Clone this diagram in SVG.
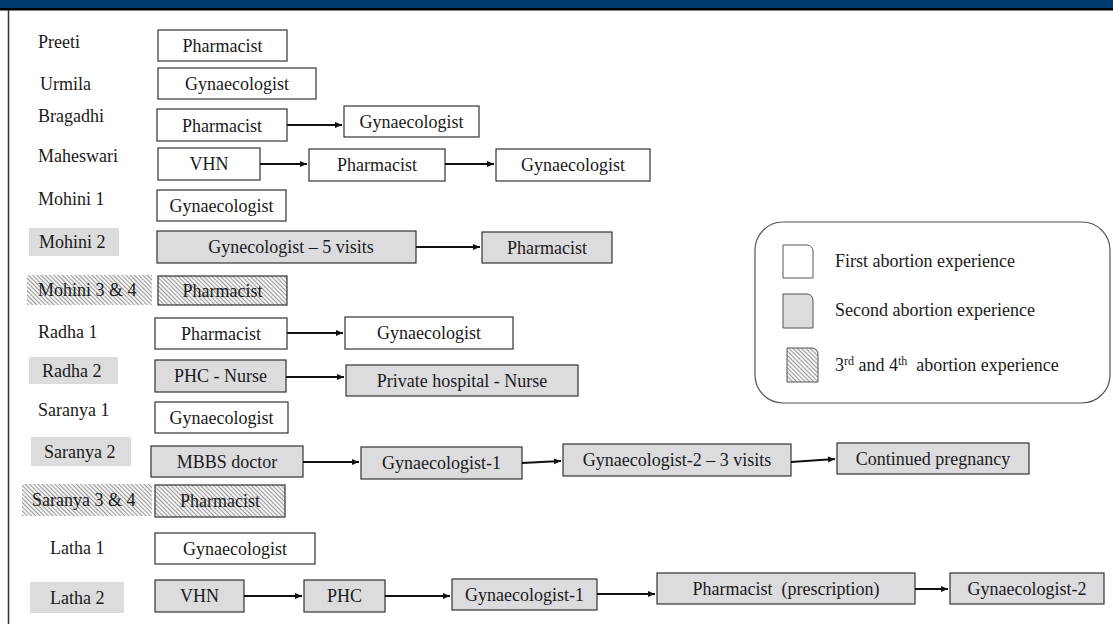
<svg xmlns="http://www.w3.org/2000/svg" width="1113" height="624" viewBox="0 0 1113 624">
<defs>
<pattern id="hatch" width="3" height="3" patternUnits="userSpaceOnUse" patternTransform="rotate(45)">
<rect width="3" height="3" fill="#f4f4f4"/>
<line x1="0" y1="0.5" x2="3" y2="0.5" stroke="#9a9a9a" stroke-width="1"/>
</pattern>
<marker id="ah" markerWidth="8" markerHeight="8" refX="7" refY="4" orient="auto" markerUnits="userSpaceOnUse">
<path d="M0,1 L7,4 L0,7 Z" fill="#111"/>
</marker>
<style>
text{font-family:"Liberation Serif","Times New Roman",serif;font-size:18px;fill:#1a1a1a}
.b{stroke:#333;stroke-width:1.2}
.w{fill:#fff}
.g{fill:#dcdcde}
.h{fill:url(#hatch)}
.c{text-anchor:middle}
.lg{fill:#dcdcdc}
.ar{stroke:#111;stroke-width:2;fill:none;marker-end:url(#ah)}
</style>
</defs>
<rect x="0" y="0" width="1113" height="624" fill="#fff"/>
<rect x="0" y="0" width="1113" height="8" fill="#003b6f"/>
<rect x="0" y="8" width="1113" height="2.5" fill="#000"/>
<line x1="8.5" y1="10" x2="8.5" y2="624" stroke="#333" stroke-width="1.5"/>

<g id="labels">
<text x="38" y="48">Preeti</text>
<text x="40" y="90">Urmila</text>
<text x="38" y="122">Bragadhi</text>
<text x="38" y="162">Maheswari</text>
<text x="38" y="205">Mohini 1</text>
<rect class="lg" x="29" y="228" width="90" height="28"/>
<text x="39" y="248">Mohini 2</text>
<rect class="h" x="27" y="275" width="125" height="30"/>
<text x="38" y="296">Mohini 3 &amp; 4</text>
<text x="38" y="338">Radha 1</text>
<rect class="lg" x="29" y="357" width="89" height="27"/>
<text x="42" y="377">Radha 2</text>
<text x="38" y="416">Saranya 1</text>
<rect class="lg" x="31" y="437" width="100" height="29"/>
<text x="44" y="458">Saranya 2</text>
<rect class="h" x="22" y="484" width="130" height="32"/>
<text x="32" y="506">Saranya 3 &amp; 4</text>
<text x="50" y="554">Latha 1</text>
<rect class="lg" x="30" y="582" width="94" height="31"/>
<text x="50" y="604">Latha 2</text>
</g>

<g id="preeti"><rect class="b w" x="158" y="30" width="129" height="31"/><text class="c" x="222.5" y="52">Pharmacist</text></g>
<g id="urmila"><rect class="b w" x="158" y="68" width="158" height="31"/><text class="c" x="237" y="90">Gynaecologist</text></g>
<g id="bragadhi-1"><rect class="b w" x="157" y="109" width="130" height="32"/><text class="c" x="222" y="132">Pharmacist</text></g>
<g id="bragadhi-2"><rect class="b w" x="344" y="106" width="135" height="31"/><text class="c" x="411.5" y="128">Gynaecologist</text></g>
<g id="maheswari-1"><rect class="b w" x="158" y="148" width="102" height="32"/><text class="c" x="209" y="170">VHN</text></g>
<g id="maheswari-2"><rect class="b w" x="309" y="149" width="136" height="32"/><text class="c" x="377" y="171">Pharmacist</text></g>
<g id="maheswari-3"><rect class="b w" x="496" y="149" width="154" height="32"/><text class="c" x="573" y="171">Gynaecologist</text></g>
<g id="mohini1"><rect class="b w" x="157" y="190" width="129" height="31"/><text class="c" x="221.5" y="212">Gynaecologist</text></g>
<g id="mohini2-1"><rect class="b g" x="157" y="231" width="259" height="32"/><text class="c" x="291" y="253">Gynecologist – 5 visits</text></g>
<g id="mohini2-2"><rect class="b g" x="482" y="232" width="130" height="31"/><text class="c" x="547" y="254">Pharmacist</text></g>
<g id="mohini34"><rect class="b h" x="158" y="276" width="129" height="29"/><text class="c" x="222.5" y="297">Pharmacist</text></g>
<g id="radha1-1"><rect class="b w" x="155" y="318" width="132" height="31"/><text class="c" x="221" y="340">Pharmacist</text></g>
<g id="radha1-2"><rect class="b w" x="345" y="317" width="168" height="32"/><text class="c" x="429" y="339">Gynaecologist</text></g>
<g id="radha2-1"><rect class="b g" x="155" y="360" width="131" height="32"/><text class="c" x="220.5" y="382">PHC - Nurse</text></g>
<g id="radha2-2"><rect class="b g" x="346" y="365" width="232" height="31"/><text class="c" x="462" y="387">Private hospital - Nurse</text></g>
<g id="saranya1"><rect class="b w" x="155" y="402" width="133" height="31"/><text class="c" x="221.5" y="424">Gynaecologist</text></g>
<g id="saranya2-1"><rect class="b g" x="151" y="446" width="152" height="31"/><text class="c" x="227" y="468">MBBS doctor</text></g>
<g id="saranya2-2"><rect class="b g" x="361" y="447" width="161" height="32"/><text class="c" x="441.5" y="469">Gynaecologist-1</text></g>
<g id="saranya2-3"><rect class="b g" x="563" y="444" width="228" height="32"/><text class="c" x="677" y="466">Gynaecologist-2 – 3 visits</text></g>
<g id="saranya2-4"><rect class="b g" x="837" y="443" width="192" height="31"/><text class="c" x="933" y="465">Continued pregnancy</text></g>
<g id="saranya34"><rect class="b h" x="155" y="485" width="130" height="32"/><text class="c" x="220" y="507">Pharmacist</text></g>
<g id="latha1"><rect class="b w" x="155" y="533" width="160" height="31"/><text class="c" x="235" y="555">Gynaecologist</text></g>
<g id="latha2-1"><rect class="b g" x="155" y="580" width="89" height="32"/><text class="c" x="199.5" y="602">VHN</text></g>
<g id="latha2-2"><rect class="b g" x="304" y="580" width="81" height="32"/><text class="c" x="344.5" y="602">PHC</text></g>
<g id="latha2-3"><rect class="b g" x="452" y="579" width="145" height="31"/><text class="c" x="524.5" y="601">Gynaecologist-1</text></g>
<g id="latha2-4"><rect class="b g" x="657" y="573" width="258" height="31"/><text class="c" x="786" y="595" xml:space="preserve">Pharmacist  (prescription)</text></g>
<g id="latha2-5"><rect class="b g" x="950" y="573" width="154" height="31"/><text class="c" x="1027" y="595">Gynaecologist-2</text></g>

<g id="connectors">
<line class="ar" x1="287" y1="125" x2="342" y2="125"/>
<line class="ar" x1="260" y1="164" x2="307" y2="164"/>
<line class="ar" x1="445" y1="164" x2="494" y2="164"/>
<line class="ar" x1="416" y1="247" x2="480" y2="247"/>
<line class="ar" x1="287" y1="333" x2="343" y2="333"/>
<line class="ar" x1="286" y1="377" x2="344" y2="377"/>
<line class="ar" x1="303" y1="462" x2="359" y2="462"/>
<line class="ar" x1="522" y1="463" x2="561" y2="461"/>
<line class="ar" x1="791" y1="462" x2="835" y2="459"/>
<line class="ar" x1="244" y1="596" x2="302" y2="596"/>
<line class="ar" x1="385" y1="596" x2="450" y2="596"/>
<line class="ar" x1="597" y1="594" x2="655" y2="594"/>
<line class="ar" x1="915" y1="589" x2="948" y2="589"/>
</g>

<g id="legend">
<rect x="755" y="222" width="355" height="181" rx="28" ry="28" fill="#fff" stroke="#555" stroke-width="1.2"/>
<path d="M783,245 H807 A6,6 0 0 1 813,251 V278 H783 Z" fill="#fff" stroke="#555" stroke-width="1"/>
<path d="M783,294 H807 A6,6 0 0 1 813,300 V328 H783 Z" fill="#dcdcde" stroke="#555" stroke-width="1"/>
<path d="M787,348 H812 A6,6 0 0 1 818,354 V382 H787 Z" fill="url(#hatch)" stroke="#555" stroke-width="1"/>
<text x="835" y="267">First abortion experience</text>
<text x="835" y="316">Second abortion experience</text>
<text x="835" y="371">3<tspan dy="-6" font-size="12">rd</tspan><tspan dy="6"> and 4</tspan><tspan dy="-6" font-size="12">th</tspan><tspan dy="6" xml:space="preserve">  abortion experience</tspan></text>
</g>
</svg>
